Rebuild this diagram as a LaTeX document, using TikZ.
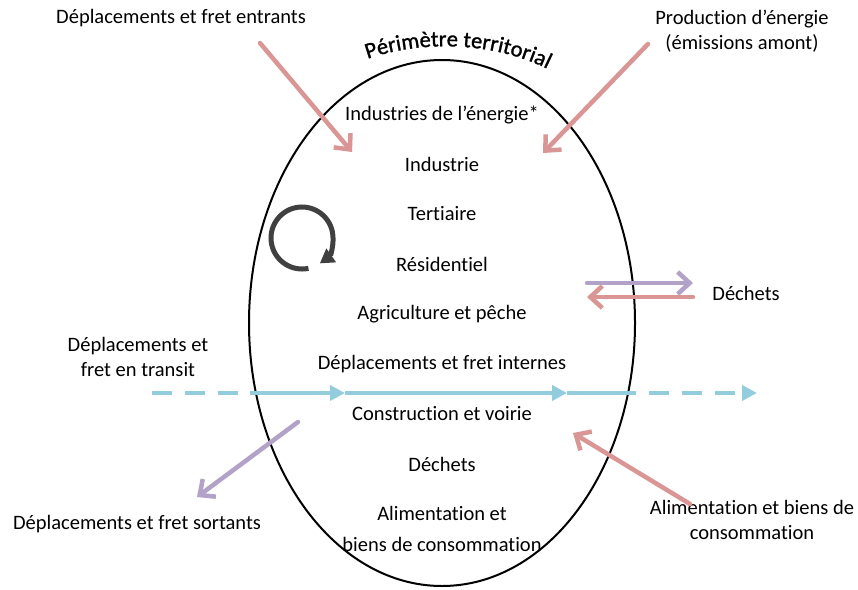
\documentclass[tikz,border=0pt]{standalone}
\usepackage{fontspec}
\setmainfont{Carlito}[Ligatures=NoCommon]
\newfontfamily\perimfont{Carlito}[Ligatures=NoCommon, FakeBold=1.2]
\usetikzlibrary{arrows.meta,decorations.text}
\definecolor{flowin}{HTML}{D99694}
\definecolor{flowout}{HTML}{B3A2C7}
\definecolor{transit}{HTML}{93CDDD}
\definecolor{loopgray}{HTML}{404040}
\tikzset{
  lbl/.style={font=\fontsize{20.5}{25}\selectfont, align=center, inner sep=0pt},
  perim/.style={draw=black, line width=2pt},
  inar/.style={-{Straight Barb[length=12pt,width=22pt]}, line width=4.5pt, draw=flowin, line cap=round},
  outar/.style={inar, draw=flowout},
  trsolid/.style={line width=4pt, draw=transit},
  trdash/.style={trsolid, dash pattern=on 20pt off 13pt},
  trtip/.style={-{Triangle[length=15pt,width=15pt]}},
  loopar/.style={line width=5pt, draw=loopgray, -{Triangle[length=14pt,width=16pt]}}
}

\begin{document}
\begin{tikzpicture}[x=1pt,y=1pt]
  \useasboundingbox (0,0) rectangle (858,-589);
  \coordinate (ctr) at (442,-323);
  \draw[perim] (ctr) ellipse [x radius=193, y radius=263];
  \path[decorate, decoration={text along path, text align=center,
      text={|\perimfont\fontsize{22.5}{27}\selectfont|Périmètre territorial}}]
    (350,-66) .. controls (410,-38) and (500,-38) .. (564,-78);

  % secteurs du territoire
  \node[lbl] (enr)  at (442,-115) {Industries de l’énergie*};
  \node[lbl] (ind)  at (442,-164) {Industrie};
  \node[lbl] (ter)  at (442,-214) {Tertiaire};
  \node[lbl] (res)  at (442,-264) {Résidentiel};
  \node[lbl] (agr)  at (442,-314) {Agriculture et pêche};
  \node[lbl] (dep)  at (442,-364) {Déplacements et fret internes};
  \node[lbl] (con)  at (442,-414) {Construction et voirie};
  \node[lbl] (dec)  at (442,-464) {Déchets};
  \node[lbl] (ali)  at (442,-529) {Alimentation et\\[6pt]biens de consommation};

  % flux externes
  \node[lbl] (fin)   at (181,-18)  {Déplacements et fret entrants};
  \node[lbl] (prod)  at (742,-31)  {Production d’énergie\\(émissions amont)};
  \node[lbl] (dech)  at (746,-293) {Déchets};
  \node[lbl] (tran)  at (138,-357) {Déplacements et\\fret en transit};
  \node[lbl] (fout)  at (137,-524) {Déplacements et fret sortants};
  \node[lbl] (alim)  at (752,-520) {Alimentation et biens de\\consommation};

  \coordinate (fin1) at (260,-43);   \coordinate (fin2) at (352,-152);
  \coordinate (prod1) at (648,-44);  \coordinate (prod2) at (543,-153);
  \coordinate (dech1) at (587,-283); \coordinate (dech2) at (693,-283);
  \coordinate (dech3) at (693,-297); \coordinate (dech4) at (587,-297);
  \coordinate (fout1) at (298,-422); \coordinate (fout2) at (197,-497);
  \coordinate (alim1) at (690,-504); \coordinate (alim2) at (573,-433);

  \draw[inar]  (fin1) -- (fin2);
  \draw[inar]  (prod1) -- (prod2);
  \draw[outar] (dech1) -- (dech2);
  \draw[inar]  (dech3) -- (dech4);
  \draw[outar] (fout1) -- (fout2);
  \draw[inar]  (alim1) -- (alim2);

  % transit
  \coordinate (tr0) at (152,-393); \coordinate (tr1) at (250,-393);
  \coordinate (trm1) at (345,-393); \coordinate (trm2) at (567,-393);
  \coordinate (tr2) at (636,-393); \coordinate (tr3) at (757,-393);
  \draw[trdash] (tr0) -- (tr1);
  \draw[trsolid, trtip] (tr1) -- (trm1);
  \draw[trsolid, trtip] (trm1) -- (trm2);
  \draw[trsolid] (trm2) -- (tr2);
  \draw[trdash, dash phase=20pt, trtip] (tr2) -- (tr3);

  % boucle interne
  \coordinate (loop) at (302,-238);
  \draw[loopar] ([shift={(-78:31)}]loop) arc [start angle=-78, end angle=-415, radius=31];
\end{tikzpicture}
\end{document}
